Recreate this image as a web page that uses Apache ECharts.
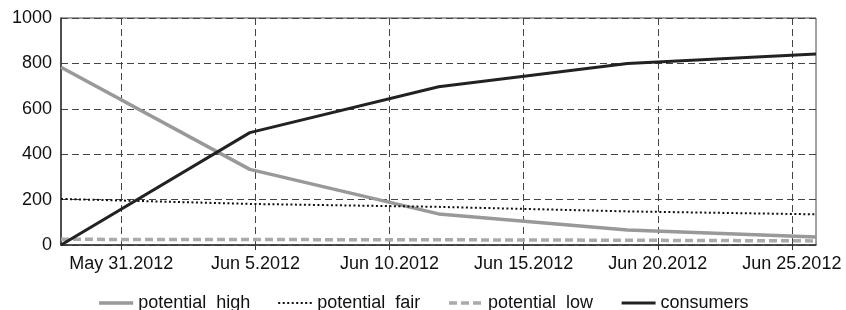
<!DOCTYPE html>
<html><head><meta charset="utf-8">
<script src="https://cdn.jsdelivr.net/npm/echarts@6/dist/echarts.min.js"></script>
<style>html,body{margin:0;padding:0;background:#fff}#c{width:846px;height:310px}</style>
</head><body><div id="c"></div>
<script>
// x positions in days relative to May 31 2012
const xDays = [-2.25, 4.79, 11.83, 18.87, 25.9];
const potentialHigh = [783, 333, 137, 66, 35];
const potentialFair = [203, 181, 168, 148, 135];
const potentialLow = [25, 24, 23, 21, 18];
const consumers = [0, 495, 697, 800, 841];
const tickDays = [0, 5, 10, 15, 20, 25];
const tickLabels = ['May 31.2012', 'Jun 5.2012', 'Jun 10.2012', 'Jun 15.2012', 'Jun 20.2012', 'Jun 25.2012'];
const seriesNames = ['potential  high', 'potential  fair', 'potential  low', 'consumers'];

const pair = arr => xDays.map((x, i) => [x, arr[i]]);
const font = 'Liberation Sans, Arial, Helvetica, sans-serif';
const chart = echarts.init(document.getElementById('c'));
chart.setOption({
  animation: false,
  grid: { left: 61, right: 30, top: 18, bottom: 65, show: true, borderColor: '#444', borderWidth: 1 },
  legend: {
    top: 289, left: 'center', itemWidth: 34, itemHeight: 18, itemGap: 27,
    itemStyle: { opacity: 0 },
    lineStyle: { width: 'inherit' },
    textStyle: { fontFamily: font, fontSize: 18, color: '#111' },
    data: seriesNames
  },
  xAxis: {
    type: 'value', min: -2.25, max: 25.9,
    axisLine: { onZero: false, lineStyle: { color: '#333', width: 1.5 } },
    axisTick: { show: true, length: 5, customValues: tickDays, lineStyle: { color: '#333' } },
    axisLabel: {
      customValues: tickDays, margin: 10,
      fontFamily: font, fontSize: 18, color: '#111',
      formatter: v => tickLabels[tickDays.indexOf(Math.round(v))] || ''
    },
    splitLine: { show: true, lineStyle: { type: [7, 4], color: '#444', width: 1 } }
  },
  yAxis: {
    type: 'value', min: 0, max: 1000, interval: 200,
    axisLine: { show: true, onZero: false, lineStyle: { color: '#333', width: 1.5 } },
    axisTick: { show: false },
    axisLabel: { margin: 9, fontFamily: font, fontSize: 18, color: '#111', formatter: v => String(v) },
    splitLine: { show: true, lineStyle: { type: [7, 4], color: '#444', width: 1 } }
  },
  series: [
    { name: seriesNames[0], type: 'line', symbol: 'none', data: pair(potentialHigh),
      lineStyle: { color: '#999', width: 3.5 }, itemStyle: { color: '#999' } },
    { name: seriesNames[1], type: 'line', symbol: 'none', data: pair(potentialFair),
      lineStyle: { color: '#111', width: 2, type: [2, 2.5] }, itemStyle: { color: '#111' } },
    { name: seriesNames[2], type: 'line', symbol: 'none', data: pair(potentialLow),
      lineStyle: { color: '#aaa', width: 3.5, type: [8, 4] }, itemStyle: { color: '#aaa' } },
    { name: seriesNames[3], type: 'line', symbol: 'none', data: pair(consumers),
      lineStyle: { color: '#222', width: 3 }, itemStyle: { color: '#222' } }
  ]
});
</script></body></html>
